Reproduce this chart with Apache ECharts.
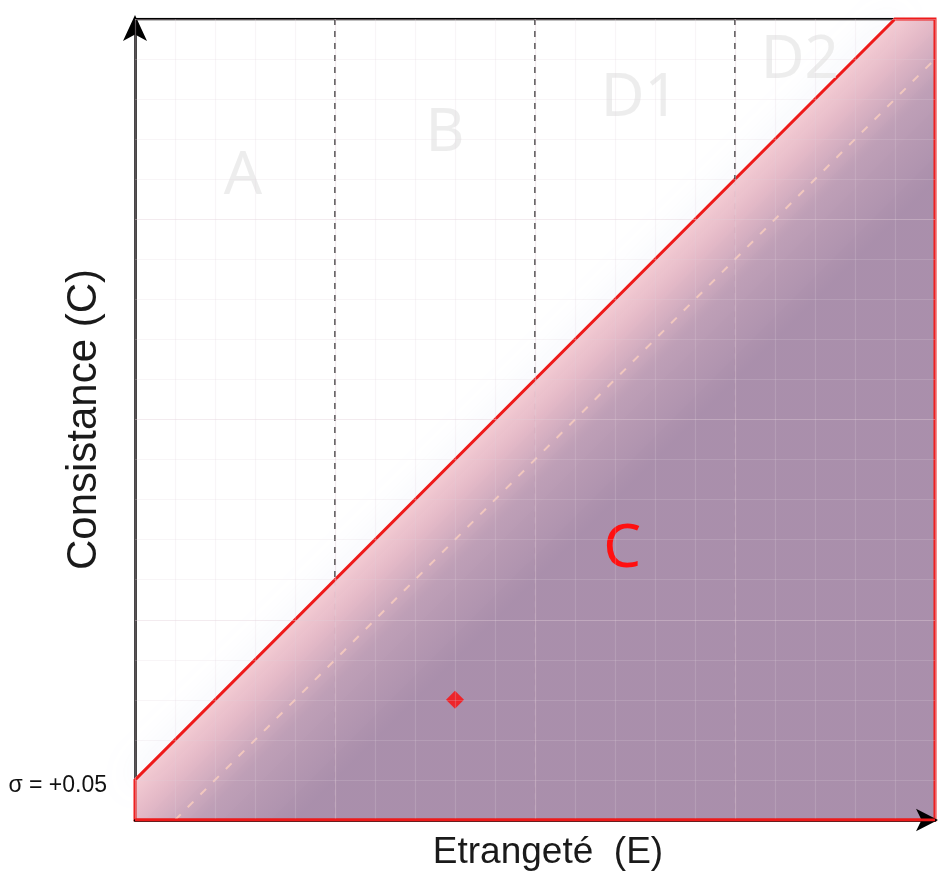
<!DOCTYPE html>
<html>
<head>
<meta charset="utf-8">
<script src="https://cdn.jsdelivr.net/npm/echarts@6/dist/echarts.min.js"></script>
<style>html,body{margin:0;padding:0;background:#fff;}#c{width:939px;height:881px;}</style>
</head>
<body>
<div id="c"></div>
<script>
// ---- data ----
const SIGMA = 0.05;                       // offset of the boundary line C = E + sigma
const zoneBounds = [0.25, 0.5, 0.75];     // dashed zone separators on E
const zoneNames = ['A', 'B', 'D1', 'D2'];
const zoneLabelE = [0.135, 0.3875, 0.631, 0.831];
const zoneLabelC = [0.8025, 0.856, 0.90, 0.9475];
const regionName = ['C'];
const regionLabelE = [0.609];
const regionLabelC = [0.3375];
const pointE = [0.40];
const pointC = [0.15];
const yTickValues = [SIGMA];
const yTickLabels = ['σ = +0.05'];
const axisNameE = 'Etrangeté  (E)';
const axisNameC = 'Consistance (C)';

// ---- derived shapes (from the line formula) ----
const polygon = [[0, 0], [0, SIGMA], [1 - SIGMA, 1], [1, 1], [1, 0]];
const boundary = [[0, SIGMA], [1 - SIGMA, 1]];
const lowerDashed = [[SIGMA, 0], [1, 1 - SIGMA]];
const upperSeps = zoneBounds.map(e => ({coords: [[e, 1], [e, Math.min(1, e + SIGMA)]]}));
const lowerSeps = zoneBounds.map(e => ({coords: [[e, Math.min(1, e + SIGMA)], [e, 0]]}));
const topBorder = [[0, 1], [1 - SIGMA, 1]];
const bottomBorder = [[0, 0], [1, 0]];

const chart = echarts.init(document.getElementById('c'));
const major = 'rgba(225,205,215,0.40)';
const minor = 'rgba(225,208,218,0.22)';
const gridColors = [major, minor, minor, minor, minor];

chart.setOption({
  animation: false,
  grid: {left: 135, top: 19, right: 4, bottom: 61, containLabel: false, outerBoundsMode: 'none'},
  xAxis: [
    {type: 'value', min: 0, max: 1, interval: 0.05, position: 'bottom', z: 10,
     axisLine: {show: true, lineStyle: {color: '#000', width: 2.5}, symbol: ['none', 'arrow'], symbolSize: [17, 22], symbolOffset: [0, 3]},
     axisTick: {show: false}, axisLabel: {show: false}, splitLine: {show: false},
     name: axisNameE, nameLocation: 'middle', nameGap: 14, nameMoveOverlap: false,
     nameTextStyle: {fontFamily: 'Liberation Sans', fontSize: 37, color: '#1a1a1a', padding: [0, 0, 0, 26]}},
    {type: 'value', min: 0, max: 1, interval: 0.05, position: 'top', z: 9,
     axisLine: {show: false}, axisTick: {show: false}, axisLabel: {show: false},
     splitLine: {show: true, lineStyle: {color: gridColors, width: 1.2}}}
  ],
  yAxis: [
    {type: 'value', min: 0, max: 1, interval: 0.05, position: 'left', z: 1,
     axisLine: {show: true, lineStyle: {color: '#000', width: 2.5}, symbol: ['none', 'arrow'], symbolSize: [18, 26], symbolOffset: [0, 4]},
     axisTick: {show: false},
     axisLabel: {show: true, margin: 28, fontFamily: 'Liberation Sans', fontSize: 23, color: '#111',
       verticalAlign: 'top', lineHeight: 12,
       formatter: v => { const i = yTickValues.findIndex(t => Math.abs(t - v) < 1e-9); return i >= 0 ? yTickLabels[i] : ''; }},
     splitLine: {show: false},
     name: axisNameC, nameLocation: 'middle', nameGap: 30, nameMoveOverlap: false,
     nameTextStyle: {fontFamily: 'Liberation Sans', fontSize: 42, color: '#1a1a1a'}},
    {type: 'value', min: 0, max: 1, interval: 0.05, position: 'right', z: 9,
     axisLine: {show: false}, axisTick: {show: false}, axisLabel: {show: false},
     splitLine: {show: true, lineStyle: {color: gridColors, width: 1.2}}}
  ],
  series: [
    // faint continuation of zone separators below the boundary (under fill)
    {type: 'lines', coordinateSystem: 'cartesian2d', z: 1, silent: true,
     data: lowerSeps, lineStyle: {color: 'rgba(110,50,70,0.55)', opacity: 1, width: 1.5, type: [6, 6]}},
    // top border
    {type: 'line', z: 1, data: topBorder, symbol: 'none', lineStyle: {color: '#000', width: 2.5}},
    // filled region C with glow
    {type: 'custom', z: 3, clip: false, silent: true, data: [[0, 0]],
     renderItem: function (params, api) {
       const pts = polygon.map(p => api.coord(p));
       const b = boundary.map(p => api.coord(p));
       return {type: 'group', children: [
         {type: 'line', shape: {x1: b[0][0], y1: b[0][1], x2: b[1][0], y2: b[1][1]},
          style: {stroke: 'rgba(255,255,255,1)', lineWidth: 3, shadowBlur: 30, shadowColor: 'rgba(150,165,215,0.6)'}},
         {type: 'polygon', shape: {points: pts},
          style: {
            fill: new echarts.graphic.LinearGradient(0, 0, 1, 1, [
              {offset: 0.475, color: 'rgba(243,200,208,0.93)'},
              {offset: 0.50, color: 'rgba(226,180,195,0.93)'},
              {offset: 0.54, color: 'rgba(186,153,178,0.94)'},
              {offset: 0.60, color: 'rgba(165,137,167,0.95)'},
              {offset: 1, color: 'rgba(165,137,167,0.95)'}
            ]),
            stroke: '#ee1a1a', lineWidth: 3
          }}
       ]};
     }},
    // lower dashed parallel line
    {type: 'line', z: 4, data: lowerDashed, symbol: 'none',
     lineStyle: {color: 'rgba(248,205,190,0.85)', width: 2, type: [8, 10]}},
    // upper zone separators
    {type: 'lines', coordinateSystem: 'cartesian2d', z: 4, silent: true,
     data: upperSeps, lineStyle: {color: '#333', opacity: 1, width: 1.5, type: [6, 6]}},
    // red bottom edge over the black axis line
    {type: 'line', z: 11, data: bottomBorder, symbol: 'none', lineStyle: {color: '#ee1a1a', width: 3}},
    // zone labels
    {type: 'custom', z: 5, clip: false, silent: true,
     data: zoneNames.map((n, i) => [zoneLabelE[i], zoneLabelC[i]]),
     renderItem: function (params, api) {
       const p = api.coord([api.value(0), api.value(1)]);
       return {type: 'text', x: p[0], y: p[1],
         style: {text: zoneNames[params.dataIndex], fontFamily: 'Noto Sans', fontSize: 60,
                 fill: 'rgba(232,232,232,0.8)', align: 'center', verticalAlign: 'middle'}};
     }},
    // region label C
    {type: 'custom', z: 5, clip: false, silent: true,
     data: regionName.map((n, i) => [regionLabelE[i], regionLabelC[i]]),
     renderItem: function (params, api) {
       const p = api.coord([api.value(0), api.value(1)]);
       return {type: 'text', x: p[0], y: p[1],
         style: {text: regionName[params.dataIndex], fontFamily: 'Noto Sans', fontSize: 60,
                 fill: '#ff1010', align: 'center', verticalAlign: 'middle'}};
     }},
    // the point
    {type: 'scatter', z: 6, symbol: 'diamond', symbolSize: 18,
     itemStyle: {color: '#ff0a0a'},
     data: pointE.map((e, i) => [e, pointC[i]])}
  ]
});
</script>
</body>
</html>
